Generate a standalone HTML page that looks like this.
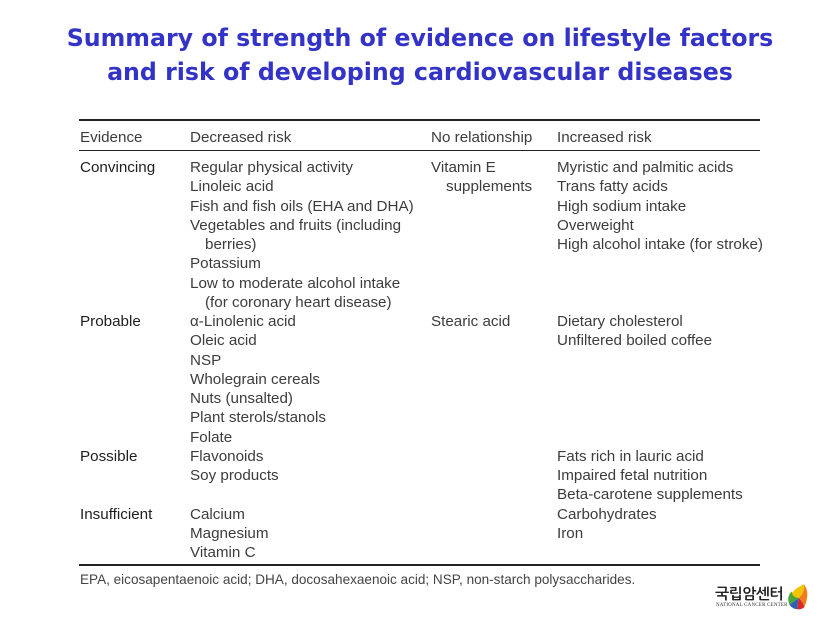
<!DOCTYPE html>
<html>
<head>
<meta charset="utf-8">
<style>
  html, body { margin:0; padding:0; }
  body { width:840px; height:629px; background:#fff; position:relative; overflow:hidden; font-family:"Liberation Sans", Arial, sans-serif; }
  .title { position:absolute; left:0; width:840px; text-align:center; font-family:"DejaVu Sans", "Liberation Sans", sans-serif; font-weight:bold; font-size:23.7px; color:#3333c8; line-height:34px; white-space:nowrap; }
  .rule { position:absolute; left:79px; width:681px; background:#222; }
  .col { position:absolute; top:158px; font-size:15.2px; line-height:19.25px; color:#3c3c3c; white-space:pre; }
  .hdr { position:absolute; top:128px; font-size:15.2px; line-height:19.2px; color:#3c3c3c; white-space:nowrap; }
  .ev { color:#1e1e1e; }
  .ind { padding-left:15px; }
  .foot { position:absolute; left:80px; top:571px; font-size:13.55px; line-height:18px; color:#444; white-space:nowrap; }
</style>
</head>
<body>
<div class="title" style="top:21px;">Summary of strength of evidence on lifestyle factors</div>
<div class="title" style="top:55px;">and risk of developing cardiovascular diseases</div>

<div class="rule" style="top:119px;height:2px;"></div>
<div class="hdr" style="left:80px;">Evidence</div>
<div class="hdr" style="left:190px;">Decreased risk</div>
<div class="hdr" style="left:431px;">No relationship</div>
<div class="hdr" style="left:557px;">Increased risk</div>
<div class="rule" style="top:149.5px;height:1.6px;"></div>

<div class="col ev" style="left:80px;">Convincing







Probable






Possible


Insufficient</div>

<div class="col" style="left:190px;">Regular physical activity
Linoleic acid
Fish and fish oils (EHA and DHA)
Vegetables and fruits (including
<span class="ind">berries)</span>
Potassium
Low to moderate alcohol intake
<span class="ind">(for coronary heart disease)</span>
α-Linolenic acid
Oleic acid
NSP
Wholegrain cereals
Nuts (unsalted)
Plant sterols/stanols
Folate
Flavonoids
Soy products

Calcium
Magnesium
Vitamin C</div>

<div class="col" style="left:431px;">Vitamin E
<span class="ind">supplements</span>






Stearic acid</div>

<div class="col" style="left:557px;">Myristic and palmitic acids
Trans fatty acids
High sodium intake
Overweight
High alcohol intake (for stroke)



Dietary cholesterol
Unfiltered boiled coffee





Fats rich in lauric acid
Impaired fetal nutrition
Beta-carotene supplements
Carbohydrates
Iron</div>

<div class="rule" style="top:564px;height:2px;"></div>
<div class="foot">EPA, eicosapentaenoic acid; DHA, docosahexaenoic acid; NSP, non-starch polysaccharides.</div>

<div style="position:absolute;left:715px;top:586px;font-family:'Liberation Sans','NanumGothic','Noto Sans CJK KR',sans-serif;font-weight:bold;font-size:15px;line-height:17px;color:#222;letter-spacing:-0.5px;white-space:nowrap;">국립암센터</div>
<div style="position:absolute;left:716px;top:603px;font-family:'Liberation Serif',serif;font-size:5px;line-height:6px;color:#333;white-space:nowrap;letter-spacing:0.2px;">NATIONAL CANCER CENTER</div>
<svg style="position:absolute;left:783px;top:583px;" width="32" height="30" viewBox="0 0 30 28">
  <g transform="rotate(-35 15 14)">
    <path d="M4 14 Q8 3 26 6 Q24 12 15 14 Z" fill="#f2c500"/>
    <path d="M4 14 Q6 6 13 5 Q10 10 15 14 Z" fill="#4aa63c"/>
    <path d="M4 14 L15 14 Q10 18 8 22 Q4 19 4 14 Z" fill="#2c5fb8"/>
    <path d="M8 22 Q10 18 15 14 Q16 20 14 24 Q10 24 8 22 Z" fill="#d8282a"/>
    <path d="M15 14 Q24 12 26 6 Q27 16 14 24 Q16 20 15 14 Z" fill="#ef7d1a"/>
  </g>
</svg>
</body>
</html>
